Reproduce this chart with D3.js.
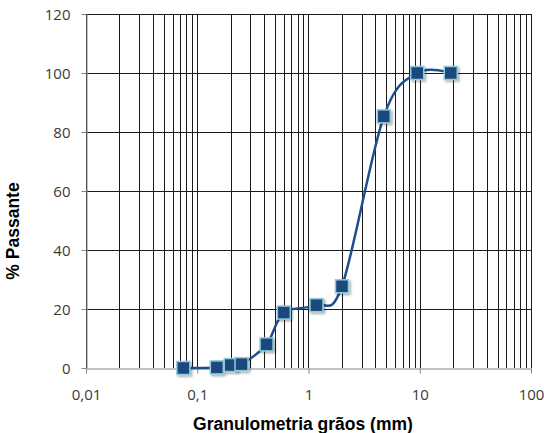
<!DOCTYPE html>
<html>
<head>
<meta charset="utf-8">
<script src="https://cdn.jsdelivr.net/npm/d3@7"></script>
<style>
  body { margin: 0; background: #fff; }
  .tick-label { font-family: "Open Sans", sans-serif; font-size: 15px; fill: #3a3a3a; }
  .axis-title { font-family: "Liberation Sans", Arial, sans-serif; font-size: 17.5px; font-weight: bold; fill: #000; }
</style>
</head>
<body>
<div id="chart"></div>
<script>
// sieve opening (mm) and % passing
var diameters = [0.075, 0.15, 0.2, 0.25, 0.42, 0.6, 1.18, 2.0, 4.75, 9.5, 19];
var passing   = [0, 0.2, 1.0, 1.3, 8, 18.8, 21.3, 27.7, 85.3, 100, 100];

var xTicks = [0.01, 0.1, 1, 10, 100];
var xTickLabels = ["0,01", "0,1", "1", "10", "100"];
var yTicks = [0, 20, 40, 60, 80, 100, 120];

var svg = d3.select("#chart").append("svg")
    .attr("width", 544)
    .attr("height", 433);

var margin = {top: 14, right: 13, bottom: 65, left: 86};
var width = 544 - margin.left - margin.right;
var height = 433 - margin.top - margin.bottom;

var g = svg.append("g").attr("transform", "translate(" + margin.left + "," + margin.top + ")");

var x = d3.scaleLog().domain([0.01, 100]).range([0, width]);
var y = d3.scaleLinear().domain([0, 120]).range([height, 0]);

// drop shadow for markers
var defs = svg.append("defs");
var f = defs.append("filter").attr("id", "shadow").attr("x", "-50%").attr("y", "-50%").attr("width", "200%").attr("height", "200%");
f.append("feDropShadow").attr("dx", 1.5).attr("dy", 1.5).attr("stdDeviation", 1.2).attr("flood-color", "#000").attr("flood-opacity", 0.35);

// vertical grid (every log tick)
var logTicks = [];
for (var d = 0.01; d < 100; d *= 10) {
    for (var k = 1; k < 10; k++) logTicks.push(+(d * k).toPrecision(3));
}
logTicks.push(100);

g.append("g")
    .selectAll("line")
    .data(logTicks)
    .enter().append("line")
    .attr("x1", function(d) { return Math.round(x(d)) + 0.5; })
    .attr("x2", function(d) { return Math.round(x(d)) + 0.5; })
    .attr("y1", 0)
    .attr("y2", height)
    .attr("stroke", "#1a1a1a")
    .attr("stroke-width", 1);

// horizontal grid
g.append("g")
    .selectAll("line")
    .data(yTicks.slice(1))
    .enter().append("line")
    .attr("x1", 0)
    .attr("x2", width)
    .attr("y1", function(d) { return Math.round(y(d)) + 0.5; })
    .attr("y2", function(d) { return Math.round(y(d)) + 0.5; })
    .attr("stroke", "#1a1a1a")
    .attr("stroke-width", 1);

// y axis
var yAxis = g.append("g")
    .attr("transform", "translate(0.5,0)")
    .call(d3.axisLeft(y).tickValues(yTicks).tickSize(5).tickSizeOuter(0).tickFormat(d3.format("d")));
yAxis.select(".domain").attr("stroke", "#868686");
yAxis.selectAll(".tick line").attr("stroke", "#868686");
yAxis.selectAll(".tick text").attr("class", "tick-label").attr("x", -16).attr("dy", "0.36em");

// x axis
var xAxis = g.append("g")
    .attr("transform", "translate(0," + (Math.round(height) + 0.5) + ")")
    .call(d3.axisBottom(x).tickValues(xTicks).tickSize(5).tickSizeOuter(0)
        .tickFormat(function(d, i) { return xTickLabels[i]; }));
xAxis.select(".domain").attr("stroke", "#868686");
xAxis.selectAll(".tick line").attr("stroke", "#868686");
xAxis.selectAll(".tick text").attr("class", "tick-label").attr("dy", 0).attr("y", 31);

// curve
var pts = diameters.map(function(d, i) { return [d, passing[i]]; });
var line = d3.line()
    .x(function(d) { return x(d[0]); })
    .y(function(d) { return y(d[1]); })
    .curve(d3.curveCardinal);

g.append("path")
    .datum(pts)
    .attr("d", line)
    .attr("fill", "none")
    .attr("stroke", "#1f4e8c")
    .attr("stroke-width", 2.5);

// markers
var s = 13;
g.append("g")
    .selectAll("rect")
    .data(pts)
    .enter().append("rect")
    .attr("x", function(d) { return x(d[0]) - s / 2; })
    .attr("y", function(d) { return y(d[1]) - s / 2; })
    .attr("width", s)
    .attr("height", s)
    .attr("fill", "#1f497d")
    .attr("stroke", "#8ecbdb")
    .attr("stroke-width", 1.5)
    .attr("filter", "url(#shadow)");

// titles
svg.append("text")
    .attr("class", "axis-title")
    .attr("x", 303)
    .attr("y", 430)
    .attr("text-anchor", "middle")
    .text("Granulometria grãos (mm)");

svg.append("text")
    .attr("class", "axis-title")
    .attr("transform", "translate(19,231) rotate(-90)")
    .attr("text-anchor", "middle")
    .text("% Passante");
</script>
</body>
</html>
